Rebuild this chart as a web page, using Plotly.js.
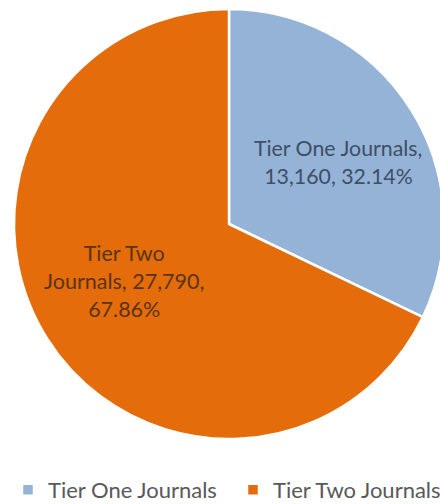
<!DOCTYPE html>
<html>
<head>
<meta charset="utf-8">
<script src="https://cdn.plot.ly/plotly-3.0.1.min.js"></script>
<style>
html, body { margin: 0; padding: 0; overflow: hidden; background: #fff; }
#chart { width: 450px; height: 504px; }
</style>
</head>
<body>
<div id="chart"></div>
<script>
const labels = ["Tier One Journals", "Tier Two Journals"];
const values = [13160, 27790];
const sliceColors = ["#95B3D7", "#E46C0A"];
const labelColors = ["#3E4F66", "#5A3410"];
const NB = "\u00A0";
const padL = NB.repeat(4);
const padR = NB.repeat(5);
const templates = [
  padL + "%{label},<br>" + padL + "%{value:,}, %{percent:.2%}",
  "Tier Two" + padR + "<br>Journals, %{value:,}," + padR + "<br>%{percent:.2%}" + padR
];

const W = 450, H = 504;
const cx = 229, cy = 224, r = 215;

const trace = {
  type: "pie",
  labels: labels,
  values: values,
  sort: false,
  direction: "clockwise",
  rotation: 0,
  marker: { colors: sliceColors, line: { color: "#ffffff", width: 2.5 } },
  texttemplate: templates,
  textinfo: "text",
  textposition: "inside",
  insidetextorientation: "horizontal",
  textfont: { family: "Lato, 'Open Sans', sans-serif", size: 21.5, color: labelColors },
  hoverinfo: "none",
  domain: {
    x: [(cx - r) / W, (cx + r) / W],
    y: [(H - (cy + r)) / H, (H - (cy - r)) / H]
  },
  automargin: false
};

const layout = {
  width: W,
  height: H,
  margin: { l: 0, r: 0, t: 0, b: 0, autoexpand: false },
  paper_bgcolor: "#ffffff",
  showlegend: true,
  legend: {
    orientation: "h",
    x: 8 / W,
    xanchor: "left",
    y: -0.014,
    yanchor: "bottom",
    entrywidth: 180,
    entrywidthmode: "pixels",
    font: { family: "Lato, 'Open Sans', sans-serif", size: 22, color: "#595959" },
    itemwidth: 30,
    traceorder: "normal"
  }
};

Plotly.newPlot("chart", [trace], layout, { displayModeBar: false, staticPlot: true });
</script>
</body>
</html>
